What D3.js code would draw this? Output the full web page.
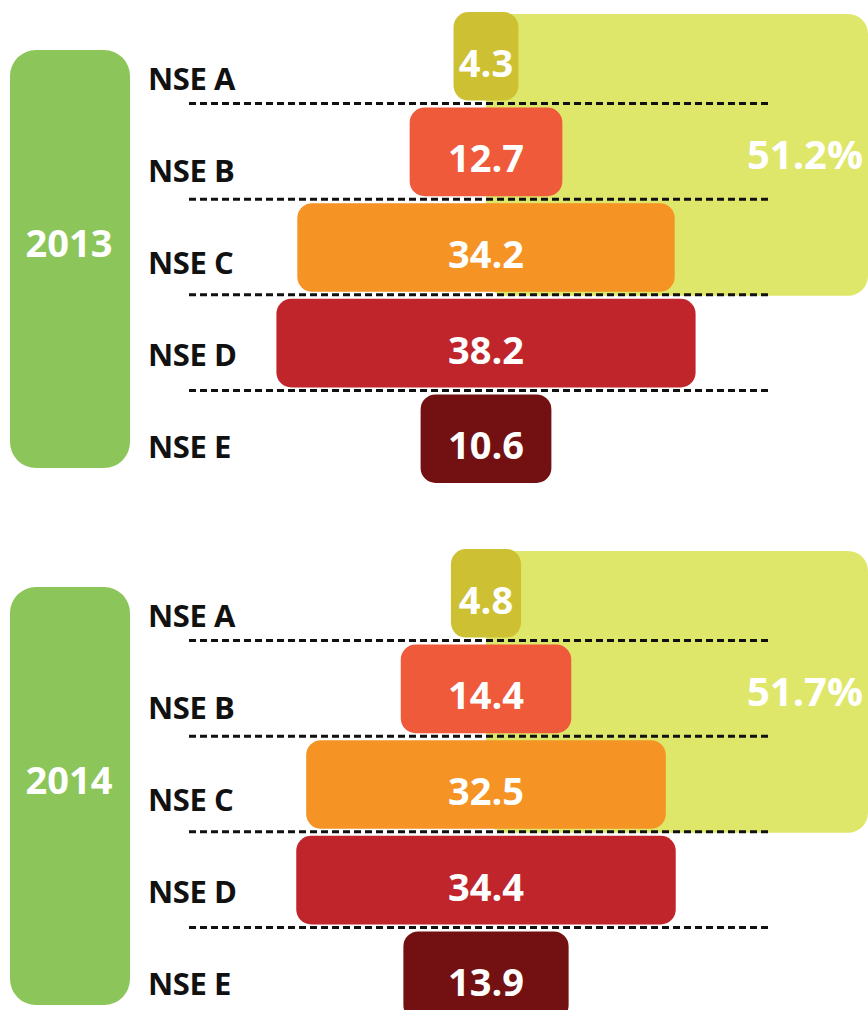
<!DOCTYPE html>
<html>
<head>
<meta charset="utf-8">
<script src="https://cdn.jsdelivr.net/npm/d3@7"></script>
<style>
  body { margin: 0; background: #fff; }
  text { font-family: "Open Sans", "DejaVu Sans", sans-serif; font-weight: 700; }
</style>
</head>
<body>
<svg width="868" height="1010"></svg>
<script>
  // data
  var categories = ["NSE A", "NSE B", "NSE C", "NSE D", "NSE E"];
  var years = ["2013", "2014"];
  var values2013 = [4.3, 12.7, 34.2, 38.2, 10.6];
  var values2014 = [4.8, 14.4, 32.5, 34.4, 13.9];
  var topShare = [51.2, 51.7]; // NSE A + B + C
  var barColors = ["#cdc133", "#ef5a3a", "#f59324", "#bf252b", "#731011"];

  var svg = d3.select("svg");
  var w = +svg.attr("width");
  var cx = 486;
  var panelOffset = 537;

  var y = d3.scaleBand().domain(categories).range([8, 486]);
  // baselines of the row labels on the left
  var yLabel = d3.scalePoint().domain(categories).range([90, 458]);
  var bw = d3.scaleLinear().domain([0, 40]).range([20, 438]);

  var panels = [values2013, values2014];

  panels.forEach(function (vals, i) {
    var g = svg.append("g").attr("transform", "translate(0," + (i * panelOffset) + ")");

    // year pill
    g.append("rect")
      .attr("x", 10).attr("y", 50)
      .attr("width", 120).attr("height", 418)
      .attr("rx", 26)
      .attr("fill", "#8cc65a");

    g.append("text")
      .attr("x", 69).attr("y", 257)
      .attr("text-anchor", "middle")
      .attr("font-size", 38)
      .attr("fill", "#fff")
      .text(years[i]);

    // highlight band behind A-C
    var top = y(categories[0]) + 6;
    var bottom = y(categories[2]) + y.bandwidth() + 1;
    g.append("rect")
      .attr("x", cx).attr("y", top)
      .attr("width", w - cx).attr("height", bottom - top)
      .attr("rx", 20)
      .attr("fill", "#dfe76b");

    g.append("text")
      .attr("x", 805).attr("y", y(categories[1]) + y.bandwidth() / 2 + 18)
      .attr("text-anchor", "middle")
      .attr("font-size", 40)
      .attr("fill", "#fff")
      .text(topShare[i].toFixed(1) + "%");

    // category labels
    g.selectAll(".cat")
      .data(categories)
      .enter().append("text")
      .attr("class", "cat")
      .attr("x", 148)
      .attr("y", function (d) { return yLabel(d); })
      .attr("font-size", 31)
      .attr("letter-spacing", -0.4)
      .attr("fill", "#111")
      .text(function (d) { return d; });

    // bars
    g.selectAll(".bar")
      .data(vals)
      .enter().append("rect")
      .attr("class", "bar")
      .attr("x", function (d) { return cx - bw(d) / 2; })
      .attr("y", function (d, j) { return y(categories[j]) + 4; })
      .attr("width", function (d) { return bw(d); })
      .attr("height", y.bandwidth() - 7)
      .attr("rx", 15)
      .attr("fill", function (d, j) { return barColors[j]; });

    // dashed separators
    g.selectAll(".sep")
      .data(categories.slice(1))
      .enter().append("line")
      .attr("class", "sep")
      .attr("x1", 189).attr("x2", 771)
      .attr("y1", function (d) { return y(d); })
      .attr("y2", function (d) { return y(d); })
      .attr("stroke", "#111")
      .attr("stroke-width", 3)
      .attr("stroke-dasharray", "7,4");

    // value labels
    g.selectAll(".val")
      .data(vals)
      .enter().append("text")
      .attr("class", "val")
      .attr("x", cx)
      .attr("y", function (d, j) { return y(categories[j]) + y.bandwidth() / 2 + 21; })
      .attr("text-anchor", "middle")
      .attr("font-size", 38)
      .attr("fill", "#fff")
      .text(function (d) { return d.toFixed(1); });
  });
</script>
</body>
</html>
